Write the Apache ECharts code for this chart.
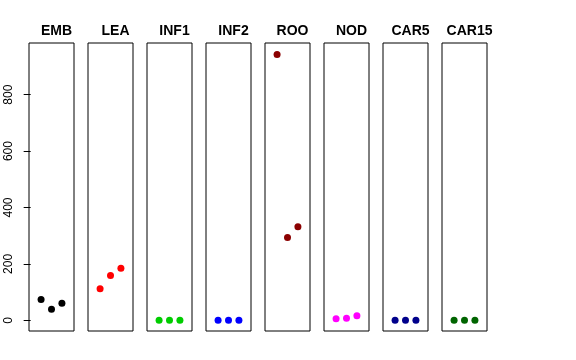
<!DOCTYPE html>
<html><head><meta charset="utf-8">
<script src="https://cdn.jsdelivr.net/npm/echarts@6/dist/echarts.min.js"></script>
<style>html,body{margin:0;padding:0;background:#fff}#c{width:576px;height:360px}</style>
</head><body><div id="c"></div>
<script>
var panels = ["EMB","LEA","INF1","INF2","ROO","NOD","CAR5","CAR15"];
var EMB = [74, 39, 61];
var LEA = [112, 159, 185];
var INF1 = [0, 0, 0];
var INF2 = [0, 0, 0];
var ROO = [942, 294, 332];
var NOD = [6, 7, 16];
var CAR5 = [0, 0, 0];
var CAR15 = [0, 0, 0];
var yTicks = [0, 200, 400, 600, 800];
var colors = ["#000000","#FF0000","#00CD00","#0000FF","#8B0000","#FF00FF","#00008B","#006400"];
var values = [EMB, LEA, INF1, INF2, ROO, NOD, CAR5, CAR15];

var grids = [], xAxes = [], yAxes = [], series = [], titles = [];
for (var i = 0; i < panels.length; i++) {
  var left = 29 + 59 * i;
  grids.push({left: left, top: 43, width: 45, height: 288, show: true, borderColor: '#000', borderWidth: 1, backgroundColor: 'transparent'});
  xAxes.push({gridIndex: i, type: 'value', min: -0.16, max: 4.16, show: false});
  yAxes.push({gridIndex: i, type: 'value', min: -37.8, max: 983,
    show: i === 0,
    splitLine: {show: false},
    axisLine: {show: false},
    axisTick: {show: true, length: 7, inside: false, customValues: yTicks, lineStyle: {color: '#000', width: 1}},
    axisLabel: {show: true, customValues: yTicks, rotate: 90, margin: 14, color: '#000', fontSize: 12, fontFamily: 'Liberation Sans, Arial'}
  });
  series.push({type: 'scatter', xAxisIndex: i, yAxisIndex: i, symbolSize: 7,
    itemStyle: {color: colors[i], opacity: 1},
    data: values[i].map(function (v, j) { return [j + 1, v]; }),
    silent: true});
  titles.push({text: panels[i], left: left + 22.5, top: 19, textAlign: 'center',
    textStyle: {fontSize: 14, fontWeight: 'bold', color: '#000', fontFamily: 'Liberation Sans, Arial'}});
}
var chart = echarts.init(document.getElementById('c'), null, {renderer: 'canvas'});
chart.setOption({animation: false, title: titles, grid: grids, xAxis: xAxes, yAxis: yAxes, series: series});
</script></body></html>
